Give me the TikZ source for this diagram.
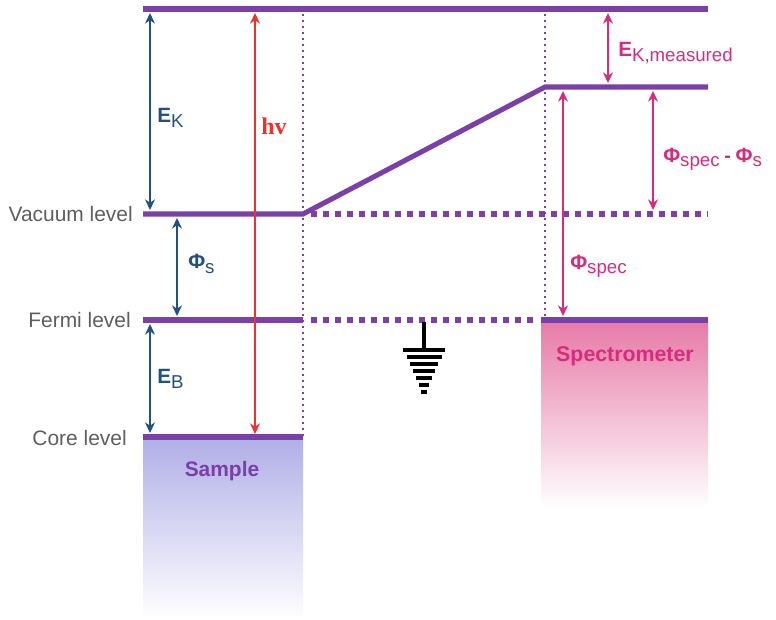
\documentclass[tikz,border=0pt]{standalone}
\usepackage{fontspec}
\setmainfont{Liberation Sans}
\newfontfamily\hvfont{Liberation Serif}
\usetikzlibrary{arrows.meta}
\definecolor{lvl}{HTML}{7B3FA8}
\definecolor{eblue}{HTML}{1F5280}
\definecolor{hvred}{HTML}{F0302A}
\definecolor{spink}{HTML}{D82B7C}
\definecolor{lblgray}{HTML}{5E5E5E}
\definecolor{samptop}{HTML}{B0AEE6}
\definecolor{spectop}{HTML}{E67AA6}
\newcommand{\eqlbl}[2]{{\fontsize{15.5}{15.5}\selectfont\bfseries #1}\raisebox{-0.6ex}{\fontsize{14}{14}\selectfont #2}}
\tikzset{
  level/.style={draw=lvl, line width=3.8pt},
  dotlevel/.style={draw=lvl, line width=3.8pt, dash pattern=on 4.5pt off 4.5pt},
  guide/.style={draw=lvl, line width=1.2pt, dash pattern=on 1.8pt off 2.7pt},
  tips/.style={{Stealth[length=8pt,width=7.5pt]}-{Stealth[length=8pt,width=7.5pt]}},
  barrow/.style={draw=eblue, line width=1.7pt, tips},
  parrow/.style={draw=spink, line width=1.7pt, tips},
  rarrow/.style={draw=hvred, line width=1.7pt, tips},
  lvllabel/.style={text=lblgray, anchor=east, font=\fontsize{15.7}{15.7}\selectfont, inner sep=0pt},
  blbl/.style={text=eblue, anchor=west, inner sep=0pt},
  plbl/.style={text=spink, anchor=west, inner sep=0pt},
  gnd/.style={draw=black, line width=2.6pt},
}
\begin{document}
\begin{tikzpicture}[x=0.75pt,y=-0.75pt]
\useasboundingbox (0,0) rectangle (776,620);
% shaded boxes
\shade[top color=samptop, bottom color=white] (143,437) rectangle (303,620);
\shade[top color=spectop, bottom color=white] (541,320) rectangle (708,508);
% guides
\draw[guide] (303,14) -- (303,437);
\draw[guide] (545,14) -- (545,320);
% levels
\draw[level] (143,9) -- (708,9);
\draw[level] (143,214) -- (303,214) -- (545,87) -- (708,87);
\draw[dotlevel] (311,214) -- (708,214);
\draw[level] (143,320) -- (303,320);
\draw[dotlevel] (311,320) -- (536,320);
\draw[level] (541,320) -- (708,320);
\draw[level] (143,437) -- (303,437);
% coordinates for arrow ends
\coordinate (ekT) at (150,13);  \coordinate (ekB) at (150,210);
\coordinate (hvT) at (255,13);  \coordinate (hvB) at (255,434);
\coordinate (psT) at (177,218); \coordinate (psB) at (177,316);
\coordinate (ebT) at (150,324); \coordinate (ebB) at (150,433);
\coordinate (emT) at (608,13);  \coordinate (emB) at (608,83);
\coordinate (pdT) at (653,91);  \coordinate (pdB) at (653,210);
\coordinate (spT) at (563,91);  \coordinate (spB) at (563,316);
\draw[barrow] (ekT) -- (ekB);
\draw[rarrow] (hvT) -- (hvB);
\draw[barrow] (psT) -- (psB);
\draw[barrow] (ebT) -- (ebB);
\draw[parrow] (emT) -- (emB);
\draw[parrow] (pdT) -- (pdB);
\draw[parrow] (spT) -- (spB);
% ground
\coordinate (gT) at (424,322);
\coordinate (gB) at (424,350);
\draw[gnd] (gT) -- (gB);
\foreach \yy/\w in {350/42,357/35,364/28,371/22,378/16,385/10,392/6}
  \draw[gnd] (424-\w/2,\yy) -- (424+\w/2,\yy);
% level labels
\node[lvllabel] (vac) at (133,214) {Vacuum level};
\node[lvllabel] (fer) at (131,320) {Fermi level};
\node[lvllabel] (cor) at (127,438) {Core level};
% quantity labels
\node[blbl] (lek) at (157,118) {\eqlbl{E}{K}};
\node[text=hvred, anchor=west, inner sep=0pt, font=\hvfont\bfseries\fontsize{18}{18}\selectfont] (lhv) at (261,126) {hv};
\node[blbl] (lps) at (188,264) {\eqlbl{Φ}{s}};
\node[blbl] (leb) at (157,379) {\eqlbl{E}{B}};
\node[plbl] (lem) at (618,53) {\eqlbl{E}{K,measured}};
\node[plbl] (lpd) at (663,159) {\eqlbl{Φ}{spec}\hspace{3.5pt}{\fontsize{15}{15}\selectfont\bfseries -}\hspace{3.5pt}\eqlbl{Φ}{s}};
\node[plbl] (lsp) at (570,266) {\eqlbl{Φ}{spec}};
\node[text=lvl, font=\bfseries\fontsize{15.7}{15.7}\selectfont] (samp) at (222,471) {Sample};
\node[text=spink, font=\bfseries\fontsize{16}{16}\selectfont] (spec) at (625,356) {Spectrometer};
\end{tikzpicture}
\end{document}
